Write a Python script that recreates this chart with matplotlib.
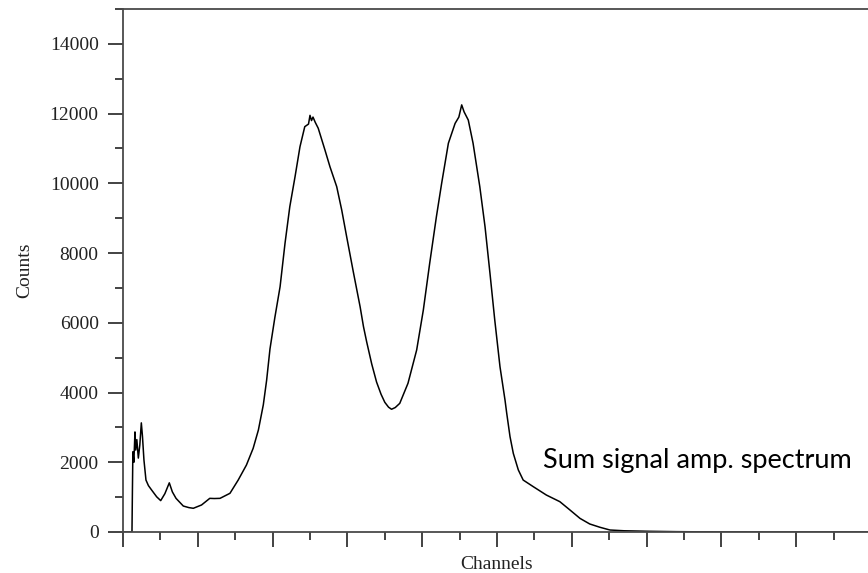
import matplotlib.pyplot as plt
from matplotlib.ticker import MultipleLocator, NullFormatter

# spectrum (channel, counts)
channels = [0, 12, 12.6, 13.2, 14.5, 16, 17, 18.5, 20.5, 22.5, 24.5, 26, 28, 30.7,
            34, 38.4, 45, 50.4, 56, 61.9, 66, 70.9, 80.6, 88, 94, 105, 116, 122,
            129.7, 143, 154, 165, 174, 181, 187.6, 192, 196.5, 203, 210, 216.6,
            223, 230, 236.6, 243, 248, 250, 252, 254, 257, 261, 270, 276.7,
            285.7, 292.4, 299, 308, 317, 321.5, 325.8, 332.5, 339, 345, 350,
            355, 359, 364, 370, 381, 392.6, 401.5, 410, 419, 426, 435, 444,
            449, 452.8, 456, 461.6, 468, 477, 484, 490.6, 497, 504, 510.7, 513,
            517.4, 521.8, 528.5, 535, 548.5, 566, 584, 597.6, 611, 624, 637.7,
            651, 670, 704.5, 740, 771, 865, 1000]
counts = [0, 0, 1200, 2300, 2000, 2870, 2350, 2650, 2120, 2500, 3130, 2750, 2065, 1490,
          1330, 1200, 1010, 900, 1100, 1410, 1150, 965, 745, 700, 680, 775, 965, 960,
          965, 1110, 1490, 1920, 2400, 2925, 3650, 4350, 5250, 6150, 7035, 8280,
          9330, 10190, 11050, 11625, 11700, 11950, 11800, 11900, 11750, 11580, 10955, 10475,
          9905, 9235, 8470, 7450, 6460, 5890, 5450, 4820, 4300, 3950, 3720,
          3580, 3520, 3570, 3690, 4265, 5220, 6365, 7705, 9045, 10000, 11150, 11720,
          11900, 12250, 12050, 11815, 11150, 9905, 8755, 7420, 6080, 4740, 3785, 3405,
          2735, 2255, 1780, 1490, 1300, 1060, 870, 630, 390, 230, 135,
          57, 35, 20, 10, 5, 0, 0]

W, H = 868, 573
fig = plt.figure(figsize=(W / 100, H / 100), dpi=100)
ax = fig.add_axes([123 / W, (H - 532) / H, 748 / W, 523 / H])
ax.plot(channels, counts, color="black", lw=1.1)

ax.set_xlim(0, 1000)
ax.set_ylim(0, 15000)
ax.spines["right"].set_visible(False)
for s in ["left", "top", "bottom"]:
    ax.spines[s].set_color("#4a4a4a")
    ax.spines[s].set_linewidth(1.3)
    ax.spines[s].set_clip_on(False)

ax.xaxis.set_major_locator(MultipleLocator(100))
ax.xaxis.set_minor_locator(MultipleLocator(50))
ax.xaxis.set_major_formatter(NullFormatter())
ax.yaxis.set_major_locator(MultipleLocator(2000))
ax.yaxis.set_minor_locator(MultipleLocator(1000))
ax.tick_params(which="major", length=11, width=1.2, color="#222222", direction="out", pad=6.5)
ax.tick_params(which="minor", length=5.8, width=1.2, color="#222222", direction="out")
ax.tick_params(axis="y", labelsize=14, labelcolor="#222222")
for lab in ax.get_yticklabels():
    lab.set_family("Liberation Serif")

ax.set_ylabel("Counts", family="Liberation Serif", fontsize=14, color="#222222")
ax.yaxis.set_label_coords(-0.12, 0.5)
ax.set_xlabel("Channels", family="Liberation Serif", fontsize=14, color="#222222", va="top")
ax.xaxis.set_label_coords(0.5, -0.046)

fig.text(543 / W, (H - 468) / H, "Sum signal amp. spectrum", family="Lato",
         fontsize=19.5, color="black", ha="left", va="baseline")

fig.savefig("out.png", dpi=100)
